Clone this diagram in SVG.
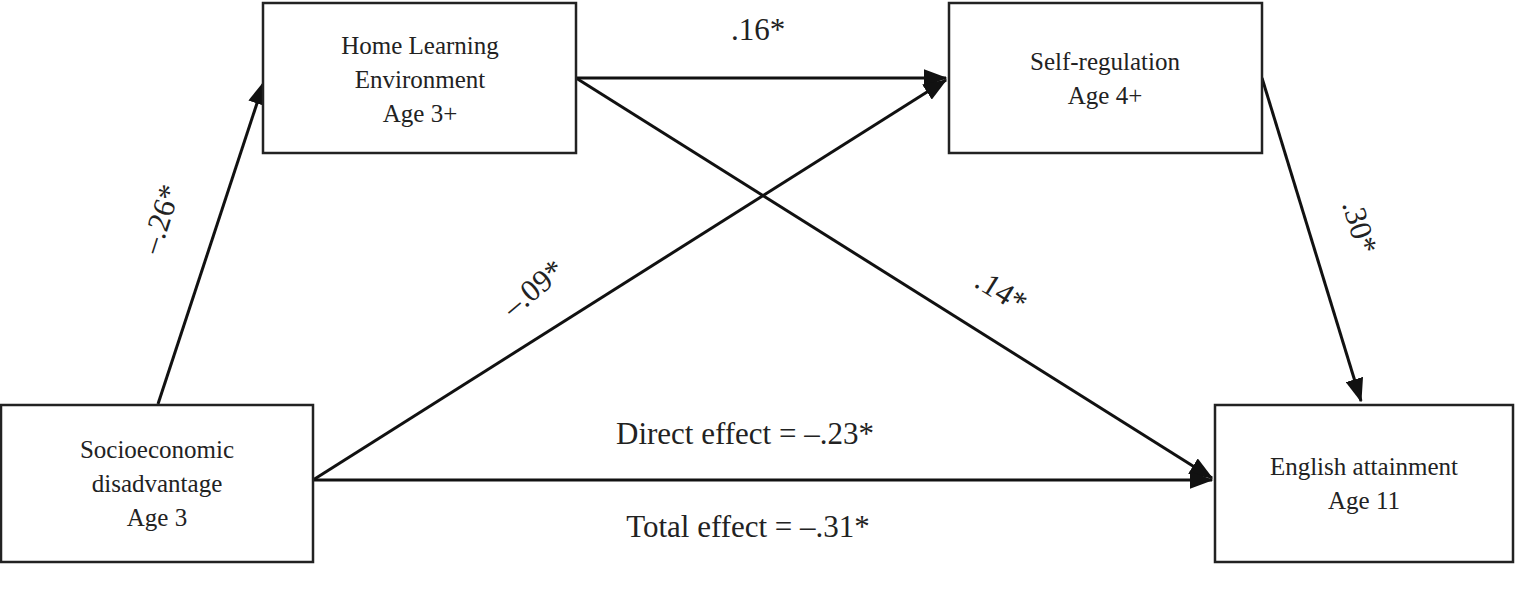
<svg xmlns="http://www.w3.org/2000/svg" width="1525" height="604" viewBox="0 0 1525 604">
<style>
.box{fill:#fff;stroke:#222;stroke-width:2.5}
.t{font-family:"Liberation Serif",serif;font-size:25px;fill:#222;text-anchor:middle}
.l{font-family:"Liberation Serif",serif;font-size:31px;fill:#222;text-anchor:middle}
.c{stroke:#111;stroke-width:3;fill:none;marker-end:url(#a)}
</style>
<defs><marker id="a" markerWidth="8" markerHeight="6" refX="7.5" refY="3" orient="auto" markerUnits="strokeWidth"><path d="M0,0L8,3L0,6z" fill="#111"/></marker></defs>
<rect width="1525" height="604" fill="#fff"/>
<g id="connectors">
<line class="c" x1="158" y1="404" x2="264" y2="82"/>
<line class="c" x1="576" y1="78" x2="946" y2="78"/>
<line class="c" x1="576" y1="78" x2="1212" y2="478"/>
<line class="c" x1="313" y1="480" x2="946" y2="80"/>
<line class="c" x1="313" y1="480" x2="1212" y2="480"/>
<line class="c" x1="1262" y1="78" x2="1361" y2="401"/>
</g>
<g id="labels">
<text class="l" x="758" y="40">.16*</text>
<text class="l" transform="translate(170,222) rotate(-72)">–.26*</text>
<text class="l" transform="translate(540,296) rotate(-40)">–.09*</text>
<text class="l" transform="translate(996,300) rotate(32)">.14*</text>
<text class="l" transform="translate(1350,230) rotate(73)">.30*</text>
<text class="l" x="745" y="444">Direct effect = –.23*</text>
<text class="l" x="748" y="537">Total effect = –.31*</text>
</g>
<g id="hle"><rect class="box" x="263" y="3" width="313" height="150"/>
<text class="t" x="420" y="54">Home Learning</text><text class="t" x="420" y="88">Environment</text><text class="t" x="420" y="122">Age 3+</text></g>
<g id="sr"><rect class="box" x="949" y="3" width="313" height="150"/>
<text class="t" x="1105" y="70">Self-regulation</text><text class="t" x="1105" y="104">Age 4+</text></g>
<g id="ses"><rect class="box" x="1" y="405" width="312" height="157"/>
<text class="t" x="157" y="458">Socioeconomic</text><text class="t" x="157" y="492">disadvantage</text><text class="t" x="157" y="526">Age 3</text></g>
<g id="eng"><rect class="box" x="1215" y="405" width="298" height="157"/>
<text class="t" x="1364" y="475">English attainment</text><text class="t" x="1364" y="509">Age 11</text></g>
</svg>
